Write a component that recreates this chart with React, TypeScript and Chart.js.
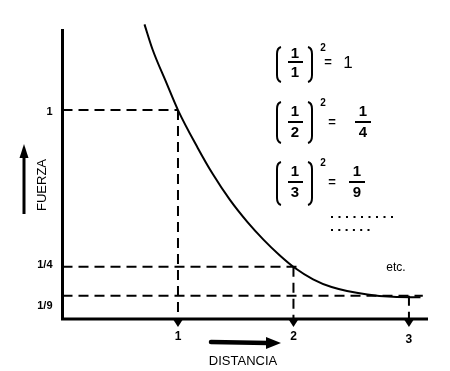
import React, { useEffect, useRef } from "react";
import { Chart, registerables } from "chart.js";

Chart.register(...registerables);

// ---- data ----
const curveX = [0.71, 0.78, 0.9, 1.0, 1.17, 1.3, 1.45, 1.6, 1.74, 1.88, 2.01, 2.17, 2.33, 2.64, 2.86, 3.1];
const curveY = [1.41, 1.29, 1.13, 1.0, 0.82, 0.695, 0.57, 0.465, 0.38, 0.305, 0.245, 0.19, 0.153, 0.117, 0.106, 0.104];
const distances = [1, 2, 3];
const distanceLabels = ["1", "2", "3"];
const forces = [1, 0.25, 0.111];
const forceLabels = ["1", "1/4", "1/9"];
const guideEndX = [1, 2.03, 3.12];
const xMax = 3.165;
const yMax = 1.388;
const formulaDenominators = ["1", "2", "3"];
const formulaResultsNum = ["1", "1", "1"];
const formulaResultsDen = ["", "4", "9"];

// ---- layout (pixels) ----
const FONT = "'Liberation Sans', Arial, sans-serif";
const yLabelShift = [2, -2, 10];
const xLabelShift = [18, 18, 21];
const rows = [
  { top: 47, bottom: 82, bar: 62, num: 54, den: 73, eqX: 328, resX: 348 },
  { top: 102, bottom: 143, bar: 122, num: 112, den: 133, eqX: 332, resX: 363 },
  { top: 162, bottom: 205, bar: 182, num: 172, den: 193, eqX: 332, resX: 357 },
];

function drawParen(ctx: CanvasRenderingContext2D, x: number, top: number, bottom: number, dir: number) {
  ctx.beginPath();
  ctx.moveTo(x + 4 * dir, top);
  ctx.quadraticCurveTo(x, top + 1, x, top + 7);
  ctx.lineTo(x, bottom - 7);
  ctx.quadraticCurveTo(x, bottom - 1, x + 4 * dir, bottom);
  ctx.stroke();
}

const annotations = {
  id: "annotations",
  afterDraw(chart: any) {
    const ctx: CanvasRenderingContext2D = chart.ctx;
    const xs = chart.scales.x;
    const ys = chart.scales.y;
    const x0 = xs.getPixelForValue(0);
    const y0 = ys.getPixelForValue(0);
    ctx.save();
    ctx.strokeStyle = "#000";
    ctx.fillStyle = "#000";
    ctx.lineCap = "butt";

    // axes
    ctx.lineWidth = 3;
    ctx.beginPath();
    ctx.moveTo(x0, ys.getPixelForValue(yMax));
    ctx.lineTo(x0, y0);
    ctx.lineTo(xs.getPixelForValue(xMax), y0);
    ctx.stroke();

    // tick triangles and x labels
    ctx.font = `bold 12px ${FONT}`;
    ctx.textAlign = "center";
    ctx.textBaseline = "middle";
    distances.forEach((d, i) => {
      const px = xs.getPixelForValue(d);
      ctx.beginPath();
      ctx.moveTo(px - 4.5, y0 + 1);
      ctx.lineTo(px + 4.5, y0 + 1);
      ctx.lineTo(px, y0 + 8);
      ctx.closePath();
      ctx.fill();
      ctx.fillText(distanceLabels[i], px, y0 + xLabelShift[i]);
    });

    // y labels
    ctx.font = `bold 11px ${FONT}`;
    ctx.textAlign = "right";
    forces.forEach((f, i) => {
      ctx.fillText(forceLabels[i], x0 - 10, ys.getPixelForValue(f) + yLabelShift[i]);
    });

    // FUERZA
    ctx.save();
    ctx.translate(42, 185);
    ctx.rotate(-Math.PI / 2);
    ctx.font = `13px ${FONT}`;
    ctx.textAlign = "center";
    ctx.fillText("FUERZA", 0, 0);
    ctx.restore();
    // up arrow
    ctx.lineWidth = 3;
    ctx.beginPath();
    ctx.moveTo(24, 214);
    ctx.lineTo(24, 155);
    ctx.stroke();
    ctx.beginPath();
    ctx.moveTo(24, 144);
    ctx.lineTo(19.5, 158);
    ctx.lineTo(28.5, 158);
    ctx.closePath();
    ctx.fill();

    // DISTANCIA
    ctx.font = `13px ${FONT}`;
    ctx.textAlign = "center";
    ctx.fillText("DISTANCIA", 243, 361);
    ctx.lineWidth = 4.5;
    ctx.lineCap = "round";
    ctx.beginPath();
    ctx.moveTo(211, 342);
    ctx.lineTo(268, 343);
    ctx.stroke();
    ctx.lineCap = "butt";
    ctx.beginPath();
    ctx.moveTo(281, 343);
    ctx.lineTo(266, 337);
    ctx.lineTo(266, 349);
    ctx.closePath();
    ctx.fill();

    // formulas
    rows.forEach((r, i) => {
      ctx.lineWidth = 2;
      drawParen(ctx, 277, r.top, r.bottom, 1);
      drawParen(ctx, 312, r.top, r.bottom, -1);
      ctx.font = `bold 15px ${FONT}`;
      ctx.textAlign = "center";
      ctx.fillText("1", 295, r.num);
      ctx.fillText(formulaDenominators[i], 295, r.den);
      ctx.fillRect(288, r.bar - 1, 15, 2);
      ctx.font = `bold 10px ${FONT}`;
      ctx.fillText("2", 323, r.top + 1);
      ctx.font = `bold 13px ${FONT}`;
      ctx.fillText("=", r.eqX, r.bar);
      ctx.font = `bold 15px ${FONT}`;
      if (formulaResultsDen[i]) {
        ctx.fillText(formulaResultsNum[i], r.resX, r.num);
        ctx.fillText(formulaResultsDen[i], r.resX, r.den);
        ctx.fillRect(r.resX - 8, r.bar - 1, 16, 2);
      } else {
        ctx.font = `17px ${FONT}`;
        ctx.fillText(formulaResultsNum[i], r.resX, r.bar + 1);
      }
    });

    // dotted lines
    for (let k = 0; k < 9; k++) ctx.fillRect(331 + k * 7.5, 216, 2, 2);
    for (let k = 0; k < 6; k++) ctx.fillRect(331 + k * 7.3, 229, 2, 2);

    // etc.
    ctx.font = `12px ${FONT}`;
    ctx.textAlign = "center";
    ctx.fillText("etc.", 396, 268);

    ctx.restore();
  },
};

export default function App() {
  const ref = useRef<HTMLCanvasElement | null>(null);
  useEffect(() => {
    if (!ref.current) return;
    const guideStyle = {
      borderColor: "#000",
      borderWidth: 2,
      borderDash: [10, 6],
      pointRadius: 0,
      tension: 0,
      clip: false as any,
    };
    const guides: any[] = [];
    forces.forEach((f, i) => {
      guides.push({
        ...guideStyle,
        data: [
          { x: 0, y: f },
          { x: guideEndX[i], y: f },
        ],
      });
      guides.push({
        ...guideStyle,
        data: [
          { x: distances[i], y: f },
          { x: distances[i], y: 0 },
        ],
      });
    });
    const chart = new Chart(ref.current, {
      type: "line",
      data: {
        datasets: [
          {
            data: curveX.map((x, i) => ({ x, y: curveY[i] })),
            borderColor: "#000",
            borderWidth: 2,
            pointRadius: 0,
            cubicInterpolationMode: "monotone",
            clip: false as any,
          },
          ...guides,
        ],
      },
      options: {
        responsive: false,
        animation: false,
        devicePixelRatio: 1,
        layout: { padding: { left: 62.5, right: 22, top: 29, bottom: 52 } },
        plugins: { legend: { display: false }, tooltip: { enabled: false } },
        scales: {
          x: { type: "linear", min: 0, max: xMax, display: false },
          y: { type: "linear", min: 0, max: yMax, display: false },
        },
      },
      plugins: [annotations],
    });
    return () => chart.destroy();
  }, []);
  return (
    <div style={{ position: "absolute", left: 0, top: 0, width: 450, height: 371, background: "#fff" }}>
      <canvas ref={ref} width={450} height={371} style={{ display: "block" }} />
    </div>
  );
}
